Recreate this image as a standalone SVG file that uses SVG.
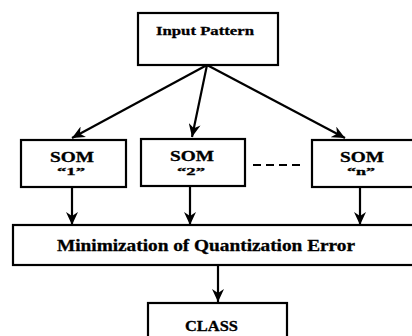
<svg xmlns="http://www.w3.org/2000/svg" width="412" height="336" viewBox="0 0 412 336">
<style>
.box{fill:#fff;stroke:#000;stroke-width:2.2}
.t{font-family:"Liberation Serif","Times New Roman",serif;font-weight:bold;fill:#000;stroke:#000;stroke-width:0.3;text-anchor:middle}
.c{stroke:#000;stroke-width:2.2;fill:none}
</style>
<defs>
<marker id="ah" markerUnits="userSpaceOnUse" markerWidth="14" markerHeight="12" refX="13" refY="6" orient="auto">
<path d="M0,0 L13,6 L0,12 L4,6 z" fill="#000"/>
</marker>
</defs>
<rect width="412" height="336" fill="#fff"/>
<g id="input">
<rect class="box" x="138" y="13" width="140" height="52"/>
<text class="t" x="205" y="35" font-size="13.5" textLength="98" lengthAdjust="spacingAndGlyphs">Input Pattern</text>
</g>
<g id="som1">
<rect class="box" x="21" y="140" width="105" height="47"/>
<text class="t" x="72" y="161.5" font-size="14.5" textLength="44" lengthAdjust="spacingAndGlyphs">SOM</text>
<text class="t" x="71" y="175" font-size="10.5" textLength="28" lengthAdjust="spacingAndGlyphs">“1”</text>
</g>
<g id="som2">
<rect class="box" x="141" y="139" width="104" height="47"/>
<text class="t" x="192" y="161" font-size="14.5" textLength="44" lengthAdjust="spacingAndGlyphs">SOM</text>
<text class="t" x="191" y="174.5" font-size="10.5" textLength="28" lengthAdjust="spacingAndGlyphs">“2”</text>
</g>
<g id="somn">
<rect class="box" x="312" y="140" width="102" height="47"/>
<text class="t" x="362" y="161.5" font-size="14.5" textLength="44" lengthAdjust="spacingAndGlyphs">SOM</text>
<text class="t" x="361" y="175" font-size="10.5" textLength="28" lengthAdjust="spacingAndGlyphs">“n”</text>
</g>
<g id="minimization">
<rect class="box" x="13" y="225" width="402" height="40"/>
<text class="t" x="206" y="251" font-size="16" textLength="298" lengthAdjust="spacingAndGlyphs">Minimization of Quantization Error</text>
</g>
<g id="class">
<rect class="box" x="148" y="303" width="139" height="40"/>
<text class="t" x="211.5" y="331" font-size="15" textLength="53" lengthAdjust="spacingAndGlyphs">CLASS</text>
</g>
<g id="connectors">
<line class="c" x1="207" y1="65" x2="72" y2="138" marker-end="url(#ah)"/>
<line class="c" x1="207" y1="65" x2="192" y2="137" marker-end="url(#ah)"/>
<line class="c" x1="207" y1="65" x2="345" y2="138" marker-end="url(#ah)"/>
<line class="c" x1="72" y1="187" x2="72" y2="225" marker-end="url(#ah)"/>
<line class="c" x1="190" y1="186" x2="190" y2="225" marker-end="url(#ah)"/>
<line class="c" x1="360" y1="187" x2="360" y2="225" marker-end="url(#ah)"/>
<line class="c" x1="218" y1="265" x2="218" y2="302" marker-end="url(#ah)"/>
<line class="c" x1="253" y1="165" x2="305" y2="165" stroke-dasharray="8,5"/>
</g>
</svg>
